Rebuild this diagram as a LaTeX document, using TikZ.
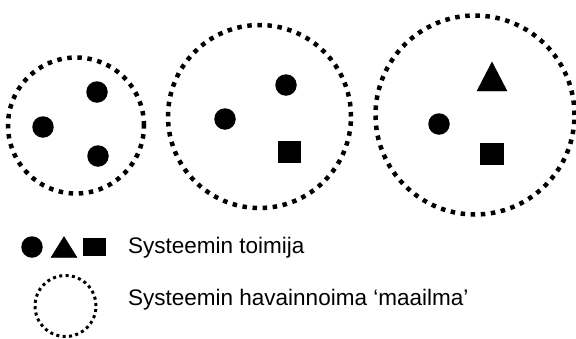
\documentclass[tikz,border=0pt]{standalone}
\usepackage{fontspec}
\setmainfont{Liberation Sans}
\begin{document}
\begin{tikzpicture}[x=1pt,y=-1pt,
  world/.style={circle,draw=black,line width=4.5pt,dash pattern=on 4.5pt off 5.6pt,
    inner sep=0pt,minimum size=#1},
  smallworld/.style={circle,draw=black,line width=3pt,dash pattern=on 3pt off 3.4pt,
    inner sep=0pt,minimum size=#1},
  agentdot/.style={circle,fill=black,inner sep=0pt,minimum size=21.5pt},
  agentsq/.style={rectangle,fill=black,inner sep=0pt,minimum width=23pt,minimum height=22pt},
  agenttri/.style={fill=black},
  label/.style={anchor=base west,inner sep=0pt,font=\fontsize{22.5}{27}\selectfont}]
\useasboundingbox (0,0) rectangle (576,338);

% first world: three round agents
\node[world=136pt] (w1) at (76,125.5) {};
\node[agentdot] (a11) at (97,92) {};
\node[agentdot] (a12) at (43,127) {};
\node[agentdot] (a13) at (98,156) {};

% second world: two round agents and a square one
\node[world=183pt] (w2) at (259.5,116.5) {};
\node[agentdot] (a21) at (286,85) {};
\node[agentdot] (a22) at (225,119) {};
\node[agentsq] (a23) at (289,152) {};

% third world: triangle, dot and square
\node[world=199pt] (w3) at (475,115) {};
\draw[agenttri] (477,91) -- (507,91) -- (492,62) -- cycle;
\node[agentdot] (a32) at (439,124) {};
\node[agentsq,minimum width=24pt] (a33) at (492,154) {};

% legend
\node[agentdot] (ld) at (32,247) {};
\draw[agenttri] (51,257.5) -- (77,257.5) -- (64,236.5) -- cycle;
\node[rectangle,fill=black,inner sep=0pt,minimum width=23pt,minimum height=18pt] (lsq) at (94.5,246.5) {};
\node[label] (t1) at (128,253) {Systeemin toimija};

\node[smallworld=61pt] (lw) at (65.5,306) {};
\node[label] (t2) at (128,305) {Systeemin havainnoima ‘maailma’};
\end{tikzpicture}
\end{document}
